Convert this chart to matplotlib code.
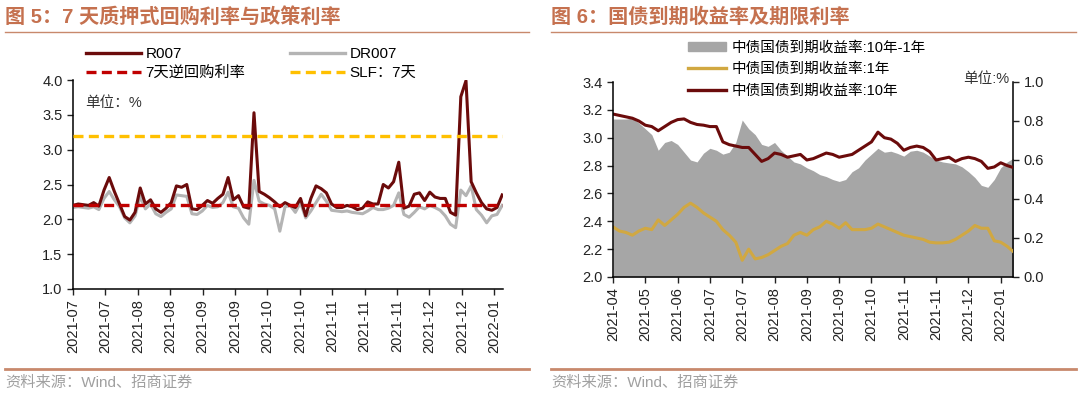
import numpy as np
import matplotlib.pyplot as plt
from matplotlib.lines import Line2D
from matplotlib.patches import Patch

plt.rcParams['font.family'] = ['Liberation Sans', 'Noto Sans CJK SC']

# ---- fig 5 data: 7-day repo rates (%), sampled along the x axis ----
r007 = [2.20, 2.22, 2.21, 2.20, 2.24, 2.19, 2.42, 2.60, 2.40, 2.22,
        2.04, 1.99, 2.10, 2.45, 2.22, 2.28, 2.15, 2.10, 2.16, 2.24,
        2.48, 2.46, 2.50, 2.15, 2.14, 2.20, 2.27, 2.23, 2.30, 2.36,
        2.60, 2.28, 2.34, 2.18, 2.16, 3.53, 2.40, 2.36, 2.31, 2.25,
        2.18, 2.24, 2.20, 2.17, 2.30, 2.05, 2.30, 2.48, 2.44, 2.38,
        2.22, 2.17, 2.17, 2.20, 2.18, 2.14, 2.16, 2.25, 2.22, 2.22,
        2.50, 2.45, 2.54, 2.82, 2.16, 2.19, 2.36, 2.38, 2.27, 2.39,
        2.32, 2.30, 2.30, 2.10, 2.06, 3.76, 3.99, 2.54, 2.38, 2.24,
        2.15, 2.13, 2.17, 2.35]
dr007 = [2.17, 2.18, 2.17, 2.16, 2.18, 2.14, 2.30, 2.40, 2.28, 2.18,
         2.02, 1.95, 2.05, 2.33, 2.15, 2.22, 2.08, 2.04, 2.10, 2.15,
         2.35, 2.34, 2.33, 2.08, 2.07, 2.12, 2.20, 2.17, 2.18, 2.24,
         2.39, 2.18, 2.16, 2.02, 1.93, 2.56, 2.26, 2.22, 2.20, 2.15,
         1.83, 2.18, 2.20, 2.10, 2.24, 2.02, 2.12, 2.24, 2.36, 2.26,
         2.13, 2.12, 2.11, 2.12, 2.10, 2.09, 2.08, 2.12, 2.17, 2.14,
         2.14, 2.16, 2.20, 2.38, 2.07, 2.03, 2.10, 2.18, 2.15, 2.20,
         2.17, 2.13, 2.05, 1.93, 1.88, 2.42, 2.34, 2.48, 2.14, 2.06,
         1.95, 2.05, 2.07, 2.20]
reverse_repo_7d = 2.2
slf_7d = 3.2
left_ticks = ['2021-07', '2021-07', '2021-08', '2021-08', '2021-09', '2021-09',
              '2021-10', '2021-10', '2021-11', '2021-11', '2021-11', '2021-12',
              '2021-12', '2022-01']

# ---- fig 6 data: CGB yields (%) and 10y-1y spread ----
y10 = [3.17, 3.16, 3.15, 3.14, 3.12, 3.09, 3.08, 3.05, 3.08, 3.11,
       3.13, 3.135, 3.11, 3.095, 3.09, 3.08, 3.08, 2.97, 2.95, 2.94,
       2.93, 2.93, 2.88, 2.83, 2.85, 2.89, 2.88, 2.86, 2.87, 2.88,
       2.84, 2.85, 2.87, 2.89, 2.88, 2.86, 2.87, 2.88, 2.91, 2.94,
       2.97, 3.04, 3.00, 2.99, 2.96, 2.91, 2.93, 2.94, 2.93, 2.90,
       2.84, 2.85, 2.86, 2.83, 2.85, 2.86, 2.85, 2.83, 2.78, 2.79,
       2.82, 2.80, 2.785]
y1 = [2.36, 2.33, 2.32, 2.30, 2.33, 2.35, 2.34, 2.41, 2.37, 2.41,
      2.45, 2.50, 2.53, 2.50, 2.46, 2.43, 2.40, 2.34, 2.30, 2.25,
      2.12, 2.20, 2.13, 2.14, 2.16, 2.19, 2.22, 2.24, 2.30, 2.32,
      2.30, 2.34, 2.36, 2.40, 2.38, 2.35, 2.39, 2.34, 2.34, 2.34,
      2.35, 2.38, 2.36, 2.34, 2.32, 2.30, 2.29, 2.28, 2.27, 2.25,
      2.245, 2.245, 2.25, 2.27, 2.30, 2.33, 2.37, 2.35, 2.35, 2.26,
      2.25, 2.22, 2.18]
spread = [0.81, 0.81, 0.81, 0.815, 0.79, 0.76, 0.73, 0.65, 0.69, 0.70,
          0.68, 0.64, 0.60, 0.59, 0.635, 0.66, 0.65, 0.63, 0.64, 0.69,
          0.805, 0.76, 0.73, 0.68, 0.67, 0.69, 0.65, 0.62, 0.59, 0.58,
          0.56, 0.545, 0.525, 0.515, 0.50, 0.49, 0.50, 0.54, 0.56, 0.60,
          0.63, 0.66, 0.64, 0.645, 0.634, 0.62, 0.645, 0.65, 0.64, 0.62,
          0.60, 0.59, 0.585, 0.58, 0.565, 0.54, 0.51, 0.47, 0.46, 0.50,
          0.56, 0.59, 0.61]
right_ticks = ['2021-04', '2021-05', '2021-06', '2021-07', '2021-07', '2021-08',
               '2021-09', '2021-09', '2021-10', '2021-11', '2021-11', '2021-12',
               '2022-01']

title_c = '#C5714F'
rule_c = '#C8896C'
dark_red = '#6B0B0B'

fig = plt.figure(figsize=(10.8, 3.96), dpi=100)
W, H = 1080, 396


def style_axis(ax):
    ax.tick_params(direction='out', length=4, width=1, labelsize=10.5, colors='#222222')
    for s in ax.spines.values():
        s.set_linewidth(1.1)


# ---------------- left chart ----------------
axl = fig.add_axes([73 / W, 1 - 289 / H, 430 / W, 209 / H])
xl = np.arange(len(r007)) * 15 / 94
axl.plot(xl, dr007, color='#B4B4B4', lw=2.2, zorder=2)
axl.plot(xl, r007, color=dark_red, lw=2.2, zorder=3)
axl.axhline(reverse_repo_7d, color='#C00000', lw=2.4, dashes=(3, 1.6), zorder=4)
axl.axhline(slf_7d, color='#FFC000', lw=2.4, dashes=(3, 1.6), zorder=4)
axl.set_ylim(1.0, 4.0)
axl.set_yticks(np.arange(1.0, 4.01, 0.5))
axl.set_yticklabels([f'{v:.1f}' for v in np.arange(1.0, 4.01, 0.5)])
axl.set_xlim(0, 13.27)
axl.set_xticks(range(len(left_ticks)))
axl.set_xticklabels(left_ticks, rotation=90)
axl.spines['top'].set_visible(False)
axl.spines['right'].set_visible(False)
style_axis(axl)

hl = [Line2D([], [], color=dark_red, lw=2.4),
      Line2D([], [], color='#C00000', lw=2.4, dashes=(3, 1.6)),
      Line2D([], [], color='#B4B4B4', lw=2.4),
      Line2D([], [], color='#FFC000', lw=2.4, dashes=(3, 1.6))]
fig.legend(hl, ['R007', '7天逆回购利率', 'DR007', 'SLF：7天'], ncol=2,
           loc='upper left', bbox_to_anchor=(86 / W, 1 - 47 / H), frameon=False,
           fontsize=11, handlelength=3.6, handletextpad=0.3, columnspacing=2.9,
           labelspacing=0.32, borderpad=0, borderaxespad=0)
fig.text(85 / W, 1 - 103 / H, '单位：%', fontsize=10.5, color='#333333', va='center')

# ---------------- right chart ----------------
axr = fig.add_axes([613 / W, 1 - 277 / H, 400 / W, 195 / H])
axf = axr.twinx()
xr = np.arange(len(y10)) / 5
axf.fill_between(xr, spread, 0, color='#A6A6A6', lw=0)
axf.set_ylim(0, 1.0)
axf.set_yticks(np.arange(0, 1.01, 0.2))
axf.set_yticklabels([f'{v:.1f}' for v in np.arange(0, 1.01, 0.2)])
axr.plot(xr, y1, color='#D1A841', lw=2.2)
axr.plot(xr, y10, color=dark_red, lw=2.2)
axr.set_zorder(axf.get_zorder() + 1)
axr.patch.set_visible(False)
axr.set_ylim(2.0, 3.4)
axr.set_yticks(np.arange(2.0, 3.41, 0.2))
axr.set_yticklabels([f'{v:.1f}' for v in np.arange(2.0, 3.41, 0.2)])
axr.set_xlim(0, 12.38)
axr.set_xticks(range(len(right_ticks)))
axr.set_xticklabels(right_ticks, rotation=90)
for s in ['top', 'right']:
    axr.spines[s].set_visible(False)
for s in ['top', 'left', 'bottom']:
    axf.spines[s].set_visible(False)
style_axis(axr)
style_axis(axf)

hr = [Patch(color='#A6A6A6'),
      Line2D([], [], color='#D1A841', lw=2.4),
      Line2D([], [], color=dark_red, lw=2.4)]
fig.legend(hr, ['中债国债到期收益率:10年-1年', '中债国债到期收益率:1年', '中债国债到期收益率:10年'],
           loc='upper left', bbox_to_anchor=(688 / W, 1 - 41 / H), frameon=False,
           fontsize=10.5, handlelength=2.6, handleheight=0.6, handletextpad=0.4,
           labelspacing=0.5, borderpad=0, borderaxespad=0)
fig.text(963 / W, 1 - 79 / H, '单位:%', fontsize=10.5, color='#333333', va='center')

# ---------------- titles, rules and sources ----------------
for x0, x1, title in [(5, 529, '图 5：7 天质押式回购利率与政策利率'),
                      (551, 1076, '图 6：国债到期收益率及期限利率')]:
    fig.text(x0 / W, 1 - 17 / H, title, fontsize=14.5, fontweight='bold',
             color=title_c, va='center')
    fig.add_artist(Line2D([x0 / W, x1 / W], [1 - 32 / H, 1 - 32 / H], color=rule_c, lw=1))
    fig.add_artist(Line2D([x0 / W, x1 / W], [1 - 369 / H, 1 - 369 / H], color=rule_c, lw=2))
    fig.text(x0 / W, 1 - 383 / H, '资料来源：Wind、招商证券', fontsize=11,
             color='#A0A0A0', va='center')

fig.savefig('out.png', dpi=100)
